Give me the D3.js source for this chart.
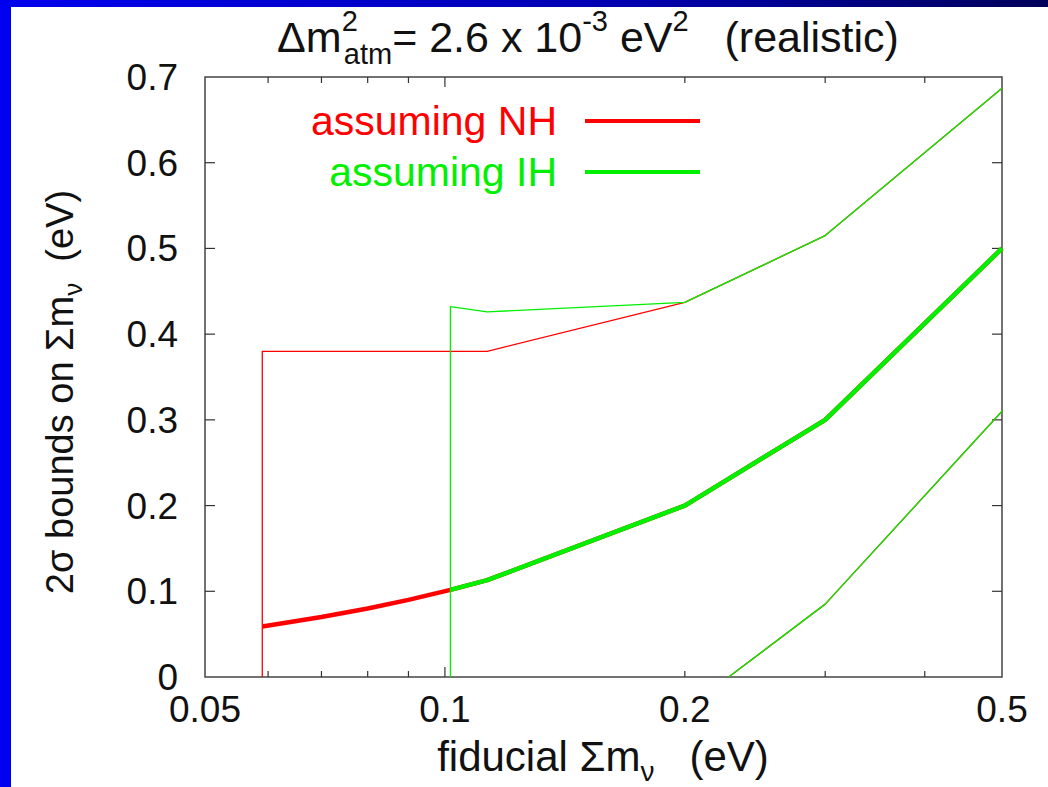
<!DOCTYPE html>
<html>
<head>
<meta charset="utf-8">
<script src="https://cdn.jsdelivr.net/npm/d3@7"></script>
<style>
  body { margin: 0; background: #fff; }
  svg text { font-family: "Liberation Sans", Arial, sans-serif; }
</style>
</head>
<body>
<svg id="chart" width="1048" height="787"></svg>
<script>
// fiducial sum of masses (eV) vs 2 sigma bounds (eV)
const nhCenterX = [0.059, 0.07, 0.08, 0.09, 0.1016, 0.113, 0.2, 0.3, 0.5]
const nhCenterY = [0.059, 0.07, 0.08, 0.09, 0.1016, 0.113, 0.2, 0.3, 0.5]
const nhUpperX = [0.059, 0.059, 0.113, 0.2, 0.3, 0.5]
const nhUpperY = [0, 0.38, 0.38, 0.437, 0.515, 0.687]
const nhLowerX = [0.227, 0.3, 0.5]
const nhLowerY = [0, 0.085, 0.31]

const ihCenterX = [0.1016, 0.113, 0.2, 0.3, 0.5]
const ihCenterY = [0.1016, 0.113, 0.2, 0.3, 0.5]
const ihUpperX = [0.1016, 0.1016, 0.113, 0.2, 0.3, 0.5]
const ihUpperY = [0, 0.432, 0.426, 0.437, 0.515, 0.687]
const ihLowerX = [0.227, 0.3, 0.5]
const ihLowerY = [0, 0.085, 0.31]

const xLabelTicks = [0.05, 0.1, 0.2, 0.5]
const xMinorTicks = [0.06, 0.07, 0.08, 0.09, 0.2, 0.3, 0.4]
const yTicks = [0, 0.1, 0.2, 0.3, 0.4, 0.5, 0.6, 0.7]

const RED = "#ff0000", GREEN = "#00f000"

let svg = d3.select("#chart"),
    width = +svg.attr("width"),
    height = +svg.attr("height");

// slide background: blue bar on top, blue strip on the left
let defs = svg.append("defs")
let grad = defs.append("linearGradient").attr("id", "topbar")
grad.append("stop").attr("offset", "0%").attr("stop-color", "#0000ee")
grad.append("stop").attr("offset", "60%").attr("stop-color", "#0000b0")
grad.append("stop").attr("offset", "100%").attr("stop-color", "#00005a")
svg.append("rect").attr("x", 0).attr("y", 0).attr("width", width).attr("height", 7).attr("fill", "url(#topbar)")
svg.append("rect").attr("x", 0).attr("y", 0).attr("width", 11).attr("height", height).attr("fill", "#0000f0")

const pLeft = 205, pRight = 1002, pTop = 77, pBottom = 677

let x = d3.scaleLog().domain([0.05, 0.5]).range([pLeft, pRight])
let y = d3.scaleLinear().domain([0, 0.7]).range([pBottom, pTop])

// frame
svg.append("rect")
    .attr("x", pLeft).attr("y", pTop)
    .attr("width", pRight - pLeft).attr("height", pBottom - pTop)
    .attr("fill", "none").attr("stroke", "#444").attr("stroke-width", 1.5)

// ticks pointing inward on all four sides
let tickLen = d => Math.abs(d - 0.1) < 1e-9 ? 10 : 6
let ticksG = svg.append("g").attr("stroke", "#333").attr("stroke-width", 1.2)
ticksG.selectAll(".xb").data(xMinorTicks.concat([0.1])).enter().append("line")
    .attr("x1", d => x(d)).attr("x2", d => x(d))
    .attr("y1", pBottom).attr("y2", d => pBottom - tickLen(d))
ticksG.selectAll(".xt").data(xMinorTicks.concat([0.1])).enter().append("line")
    .attr("x1", d => x(d)).attr("x2", d => x(d))
    .attr("y1", pTop).attr("y2", d => pTop + tickLen(d))
ticksG.selectAll(".yl").data(yTicks.slice(1, -1)).enter().append("line")
    .attr("x1", pLeft).attr("x2", pLeft + 10)
    .attr("y1", d => y(d)).attr("y2", d => y(d))
ticksG.selectAll(".yr").data(yTicks.slice(1, -1)).enter().append("line")
    .attr("x1", pRight).attr("x2", pRight - 10)
    .attr("y1", d => y(d)).attr("y2", d => y(d))

// tick labels
svg.append("g").selectAll("text").data(xLabelTicks).enter().append("text")
    .attr("x", d => x(d)).attr("y", 722)
    .attr("text-anchor", "middle").attr("font-size", 37).attr("fill", "#111")
    .text(d => d)
svg.append("g").selectAll("text").data(yTicks).enter().append("text")
    .attr("x", 178).attr("y", d => y(d) + 13)
    .attr("text-anchor", "end").attr("font-size", 37).attr("fill", "#111")
    .text(d => d)

// curves
let line = d3.line().x(d => x(d[0])).y(d => y(d[1]))
let series = [
    {xs: nhUpperX, ys: nhUpperY, c: RED, w: 1.3},
    {xs: nhLowerX, ys: nhLowerY, c: RED, w: 1.3},
    {xs: nhCenterX, ys: nhCenterY, c: RED, w: 4.5},
    {xs: ihUpperX, ys: ihUpperY, c: GREEN, w: 1.3},
    {xs: ihLowerX, ys: ihLowerY, c: GREEN, w: 1.3},
    {xs: ihCenterX, ys: ihCenterY, c: GREEN, w: 4.5}
]
svg.append("g").selectAll("path").data(series).enter().append("path")
    .attr("d", s => line(s.xs.map((v, i) => [v, s.ys[i]])))
    .attr("fill", "none")
    .attr("stroke", s => s.c)
    .attr("stroke-width", s => s.w)
    .attr("stroke-linejoin", "round")

// legend
let legend = [{t: "assuming NH", c: RED, y: 121}, {t: "assuming IH", c: GREEN, y: 172}]
let lg = svg.append("g")
lg.selectAll("text").data(legend).enter().append("text")
    .attr("x", 557).attr("y", d => d.y + 14)
    .attr("text-anchor", "end").attr("font-size", 41).attr("fill", d => d.c)
    .text(d => d.t)
lg.selectAll("line").data(legend).enter().append("line")
    .attr("x1", 585).attr("x2", 700)
    .attr("y1", d => d.y).attr("y2", d => d.y)
    .attr("stroke", d => d.c).attr("stroke-width", 4)

// title
let title = svg.append("text")
    .attr("x", 588).attr("y", 52)
    .attr("text-anchor", "middle").attr("font-size", 43).attr("fill", "#111")
title.append("tspan").text("\u0394m")
title.append("tspan").attr("dy", -21).attr("font-size", 29).text("2")
title.append("tspan").attr("dy", 33).attr("font-size", 29).attr("dx", -14).text("atm")
title.append("tspan").attr("dy", -12).text("= 2.6 x 10")
title.append("tspan").attr("dy", -21).attr("font-size", 29).text("-3")
title.append("tspan").attr("dy", 21).text(" eV")
title.append("tspan").attr("dy", -21).attr("font-size", 29).text("2")
title.append("tspan").attr("dy", 21).text("\u00a0\u00a0 (realistic)")

// x axis label
let xl = svg.append("text")
    .attr("x", 603).attr("y", 771)
    .attr("text-anchor", "middle").attr("font-size", 42).attr("fill", "#111")
xl.append("tspan").text("fiducial \u03a3m")
xl.append("tspan").attr("dy", 10).attr("font-size", 28).text("\u03bd")
xl.append("tspan").attr("dy", -10).text("\u00a0\u00a0 (eV)")

// y axis label
let yl = svg.append("text")
    .attr("transform", "translate(73,392) rotate(-90)")
    .attr("text-anchor", "middle").attr("font-size", 38).attr("fill", "#111")
yl.append("tspan").text("2\u03c3 bounds on \u03a3m")
yl.append("tspan").attr("dy", 9).attr("font-size", 26).text("\u03bd")
yl.append("tspan").attr("dy", -9).text("\u00a0\u00a0(eV)")
</script>
</body>
</html>
